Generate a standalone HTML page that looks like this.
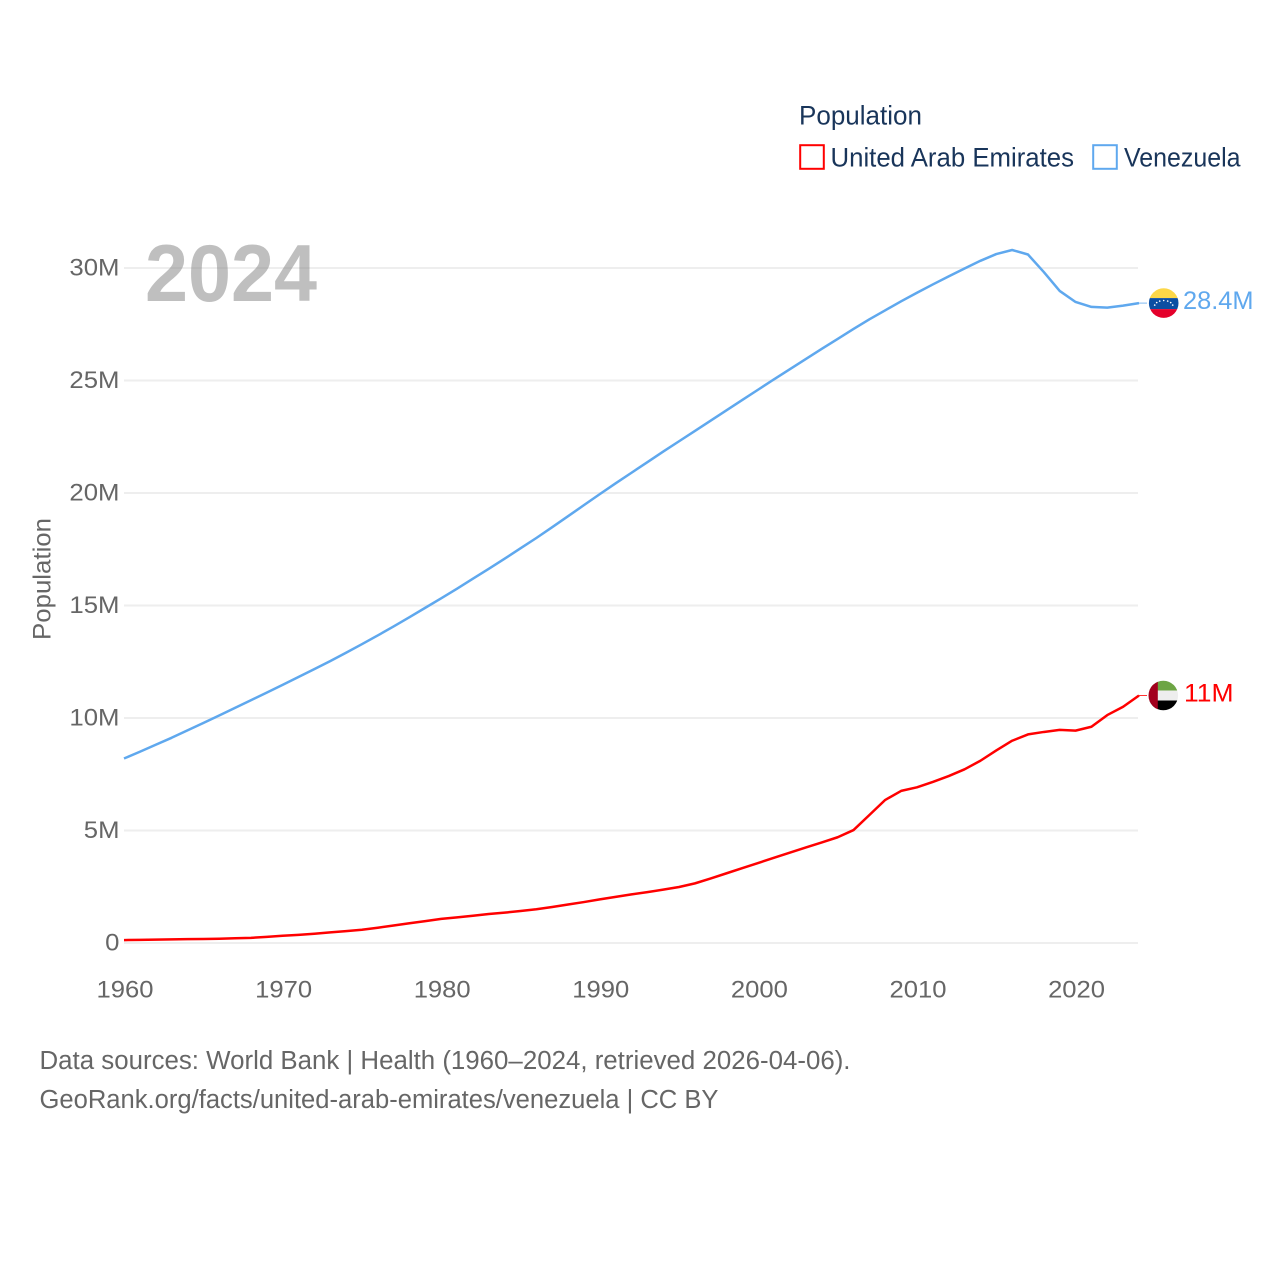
<!DOCTYPE html>
<html lang="en">
<head>
<meta charset="utf-8">
<title>Population: United Arab Emirates and Venezuela</title>
<style>
html,body{margin:0;padding:0;background:#fff;width:1280px;height:1280px;overflow:hidden}
svg{display:block}
text{font-family:"Liberation Sans",Arial,sans-serif}
</style>
</head>
<body>
<svg id="chart" xmlns="http://www.w3.org/2000/svg" width="1280" height="1280" viewBox="0 0 1280 1280">
  <defs>
    <clipPath id="flag-clip"><circle cx="0" cy="0" r="14.8"/></clipPath>
  </defs>
  <rect x="0" y="0" width="1280" height="1280" fill="#ffffff"/>

  <g id="grid"></g>

  <text x="145" y="301" font-size="81" font-weight="700" fill="#808080" fill-opacity="0.5" textLength="172" lengthAdjust="spacingAndGlyphs">2024</text>

  <g id="y-ticks"></g>
  <g id="x-ticks"></g>
  <text transform="translate(50.500,579) rotate(-90)" text-anchor="middle" font-size="25" fill="#666666" textLength="122" lengthAdjust="spacingAndGlyphs">Population</text>

  <g id="series"></g>

  <g id="flag-venezuela">
    <g clip-path="url(#flag-clip)">
      <rect x="-16" y="-16" width="32" height="11" fill="#fcd748"/>
      <rect x="-16" y="-5" width="32" height="11" fill="#0b4ea2"/>
      <rect x="-16" y="6" width="32" height="10.500" fill="#e4002b"/>
      <g fill="#ffffff">
        <circle cx="-9" cy="2" r="0.8"/><circle cx="-7" cy="-0.5" r="0.8"/><circle cx="-4" cy="-2" r="0.8"/>
        <circle cx="0" cy="-2.6" r="0.8"/><circle cx="4" cy="-2" r="0.8"/><circle cx="7" cy="-0.5" r="0.8"/><circle cx="9" cy="2" r="0.8"/>
      </g>
    </g>
  </g>
  <g id="flag-uae">
    <g clip-path="url(#flag-clip)">
      <rect x="-16" y="-16" width="32" height="11" fill="#6da544"/>
      <rect x="-16" y="-5" width="32" height="10" fill="#eeeeee"/>
      <rect x="-16" y="5" width="32" height="11" fill="#000000"/>
      <rect x="-16" y="-16" width="10.500" height="32" fill="#a2001d"/>
    </g>
  </g>
  <g id="end-labels"></g>

  <text x="799" y="124.500" font-size="26.500" fill="#19355a" textLength="123" lengthAdjust="spacingAndGlyphs">Population</text>
  <g>
    <rect x="800.2" y="145.2" width="23.6" height="23.6" fill="none" stroke="#ff0000" stroke-width="2"/>
    <text x="830.500" y="166.500" font-size="26.500" fill="#19355a" textLength="243.500" lengthAdjust="spacingAndGlyphs">United Arab Emirates</text>
  </g>
  <g>
    <rect x="1093.2" y="145.2" width="23.6" height="23.6" fill="none" stroke="#5fa8ee" stroke-width="2"/>
    <text x="1124" y="166.500" font-size="26.500" fill="#19355a" textLength="116.500" lengthAdjust="spacingAndGlyphs">Venezuela</text>
  </g>

  <text x="39.500" y="1069" font-size="25.500" fill="#666666" textLength="811" lengthAdjust="spacingAndGlyphs">Data sources: World Bank | Health (1960–2024, retrieved 2026-04-06).</text>
  <text x="39.500" y="1108" font-size="25.500" fill="#666666" textLength="679" lengthAdjust="spacingAndGlyphs">GeoRank.org/facts/united-arab-emirates/venezuela | CC BY</text>
</svg>

<script>
const years = [1960,1961,1962,1963,1964,1965,1966,1967,1968,1969,1970,1971,1972,1973,1974,1975,1976,1977,1978,1979,1980,1981,1982,1983,1984,1985,1986,1987,1988,1989,1990,1991,1992,1993,1994,1995,1996,1997,1998,1999,2000,2001,2002,2003,2004,2005,2006,2007,2008,2009,2010,2011,2012,2013,2014,2015,2016,2017,2018,2019,2020,2021,2022,2023,2024];
const venezuelaValues = [8.20,8.50,8.81,9.12,9.45,9.78,10.11,10.45,10.79,11.13,11.47,11.82,12.17,12.53,12.90,13.28,13.67,14.07,14.48,14.90,15.32,15.75,16.19,16.63,17.08,17.54,18.00,18.48,18.97,19.46,19.95,20.43,20.90,21.37,21.84,22.30,22.76,23.22,23.68,24.14,24.60,25.06,25.51,25.96,26.41,26.85,27.29,27.72,28.12,28.52,28.90,29.27,29.63,29.98,30.32,30.62,30.80,30.60,29.82,28.98,28.49,28.27,28.24,28.33,28.44];
const uaeValues = [0.13,0.14,0.15,0.16,0.17,0.18,0.19,0.21,0.23,0.27,0.32,0.36,0.41,0.47,0.53,0.59,0.68,0.78,0.88,0.97,1.07,1.14,1.21,1.29,1.35,1.42,1.50,1.60,1.71,1.82,1.94,2.05,2.16,2.26,2.37,2.49,2.65,2.87,3.10,3.33,3.56,3.79,4.02,4.25,4.47,4.70,5.02,5.69,6.36,6.76,6.92,7.16,7.42,7.72,8.10,8.56,8.99,9.27,9.38,9.47,9.44,9.61,10.13,10.50,11.00];
const yTickValues = [0,5,10,15,20,25,30];
const yTickLabels = ['0','5M','10M','15M','20M','25M','30M'];
const xTickValues = [1960,1970,1980,1990,2000,2010,2020];
const xTickLabels = ['1960','1970','1980','1990','2000','2010','2020'];
const endValueLabels = ['28.4M','11M'];

const svgNS = 'http://www.w3.org/2000/svg';
function xScale(year){ return 124 + (year - 1960) * (1139 - 124) / (2024 - 1960); }
function yScale(v){ return 943 - v * (943 - 268) / 30; }
function make(tag, attrs, parent, txt){
  const el = document.createElementNS(svgNS, tag);
  for (const k in attrs) el.setAttribute(k, attrs[k]);
  if (txt !== undefined) el.textContent = txt;
  parent.appendChild(el);
  return el;
}

const gridGroup = document.getElementById('grid');
const yTickGroup = document.getElementById('y-ticks');
yTickValues.forEach(function(v, i){
  const line = make('line', {x1:124, x2:1138, y1:yScale(v), y2:yScale(v), stroke:'#eeeeee', 'stroke-width':2}, gridGroup);
  
  
  const label = make('text', {x:119.500, y:yScale(v)+7.300, 'text-anchor':'end', 'font-size':24.500, fill:'#666666'}, yTickGroup, yTickLabels[i]);
  label.setAttribute('textLength', (label.getComputedTextLength()*1.05).toFixed(1));
  label.setAttribute('lengthAdjust', 'spacingAndGlyphs');
  
  
});

const xTickGroup = document.getElementById('x-ticks');
xTickValues.forEach(function(v, i){
  const label = make('text', {x:xScale(v)+1, y:997.300, 'text-anchor':'middle', 'font-size':24.500, fill:'#666666', textLength:57, lengthAdjust:'spacingAndGlyphs'}, xTickGroup, xTickLabels[i]);
  
  
});

function pointsOf(values){
  return values.map(function(v, i){ return xScale(years[i]).toFixed(2) + ',' + yScale(v).toFixed(2); }).join(' ');
}
const seriesGroup = document.getElementById('series');
const endLabelGroup = document.getElementById('end-labels');

const venezuelaLine = make('polyline', {points:pointsOf(venezuelaValues), fill:'none', stroke:'#5fa8ee', 'stroke-width':2.500, 'stroke-linejoin':'round'}, seriesGroup);


const uaeLine = make('polyline', {points:pointsOf(uaeValues), fill:'none', stroke:'#ff0000', 'stroke-width':2.500, 'stroke-linejoin':'round'}, seriesGroup);



const lastVenezuelaY = yScale(venezuelaValues[venezuelaValues.length - 1]);
const lastUaeY = yScale(uaeValues[uaeValues.length - 1]);

const venezuelaConnector = make('line', {x1:1139, x2:1147, y1:lastVenezuelaY, y2:lastVenezuelaY, stroke:'#5fa8ee', 'stroke-width':1, 'stroke-opacity':0.8}, seriesGroup);


const uaeConnector = make('line', {x1:1139, x2:1147, y1:lastUaeY, y2:lastUaeY, stroke:'#ff0000', 'stroke-width':1, 'stroke-opacity':0.8}, seriesGroup);



document.getElementById('flag-venezuela').setAttribute('transform', 'translate(1163.700,' + lastVenezuelaY + ')');
document.getElementById('flag-uae').setAttribute('transform', 'translate(1163.300,' + lastUaeY + ')');

const venezuelaEndLabel = make('text', {x:1183, y:lastVenezuelaY+6, 'font-size':25, fill:'#5fa8ee', textLength:70.500, lengthAdjust:'spacingAndGlyphs'}, endLabelGroup, endValueLabels[0]);


const uaeEndLabel = make('text', {x:1184, y:lastUaeY+6, 'font-size':25, fill:'#ff0000', textLength:49.500, lengthAdjust:'spacingAndGlyphs'}, endLabelGroup, endValueLabels[1]);


</script>
</body>
</html>
